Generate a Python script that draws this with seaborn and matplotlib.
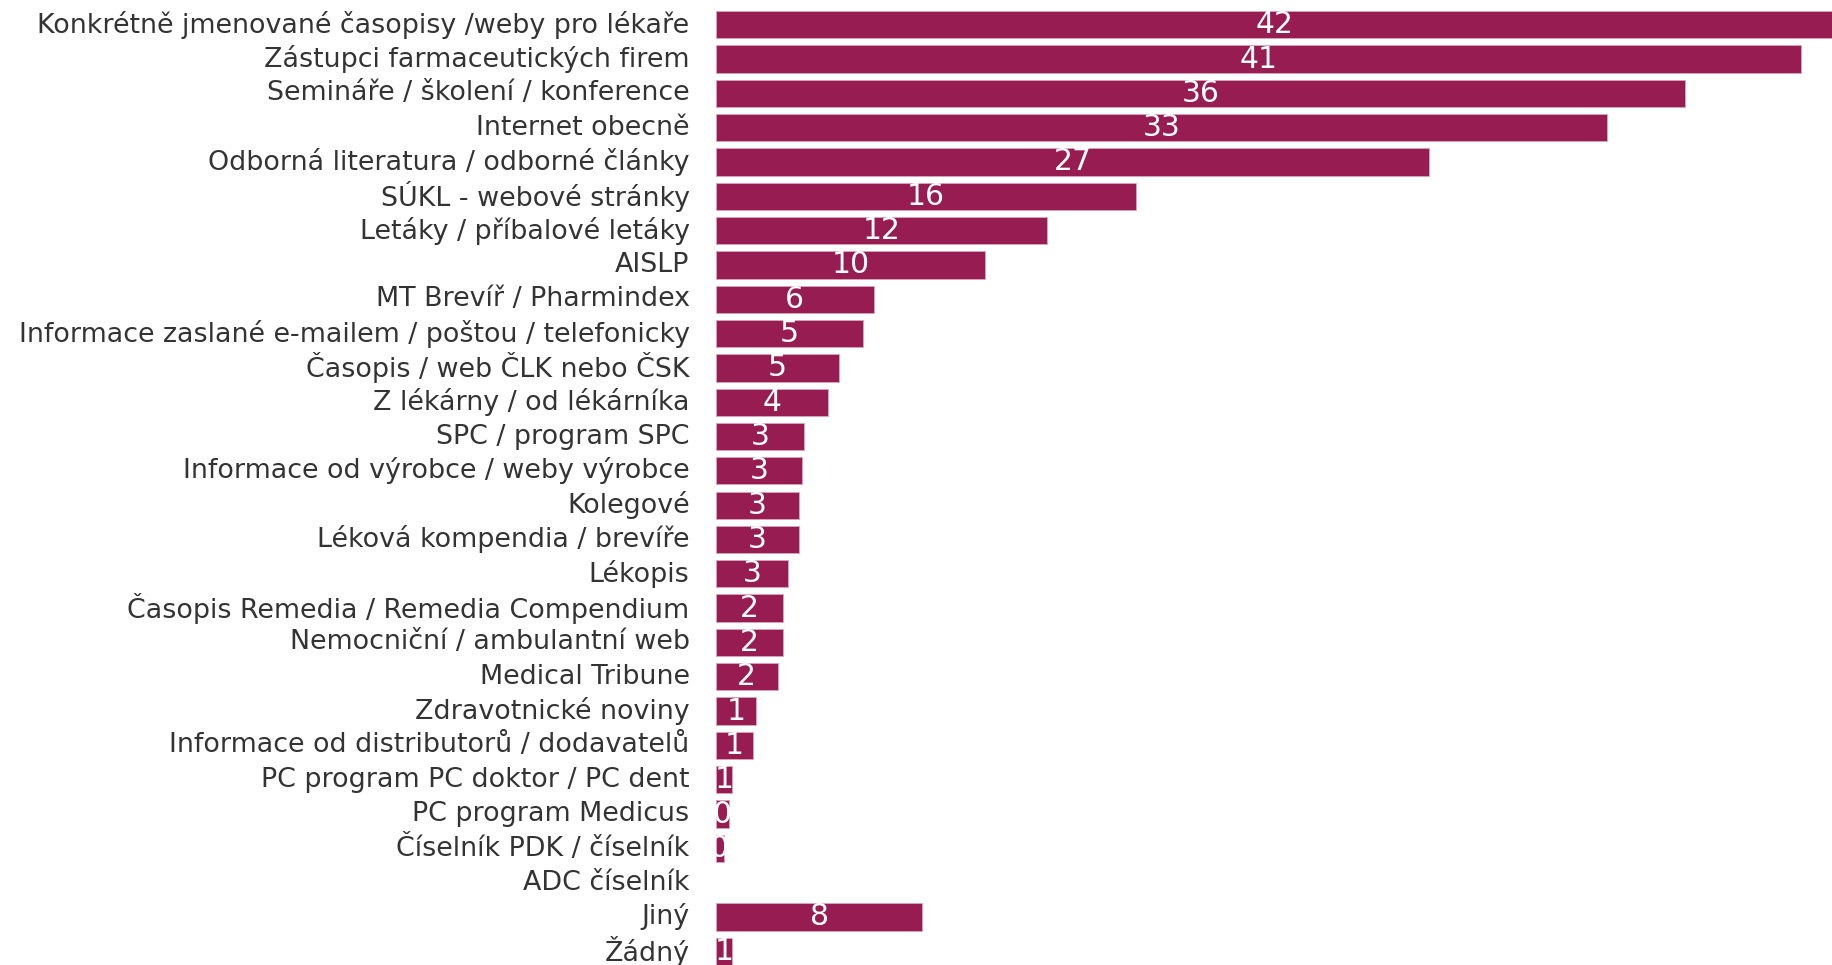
import matplotlib
matplotlib.use("Agg")
import matplotlib.pyplot as plt
import matplotlib.transforms as mtransforms
import seaborn as sns
import pandas as pd

categories = [
    "Konkrétně jmenované časopisy /weby pro lékaře",
    "Zástupci farmaceutických firem",
    "Semináře / školení / konference",
    "Internet obecně",
    "Odborná literatura / odborné články",
    "SÚKL - webové stránky",
    "Letáky / příbalové letáky",
    "AISLP",
    "MT Brevíř / Pharmindex",
    "Informace zaslané e-mailem / poštou / telefonicky",
    "Časopis / web ČLK nebo ČSK",
    "Z lékárny / od lékárníka",
    "SPC / program SPC",
    "Informace od výrobce / weby výrobce",
    "Kolegové",
    "Léková kompendia / brevíře",
    "Lékopis",
    "Časopis Remedia / Remedia Compendium",
    "Nemocniční / ambulantní web",
    "Medical Tribune",
    "Zdravotnické noviny",
    "Informace od distributorů / dodavatelů",
    "PC program PC doktor / PC dent",
    "PC program Medicus",
    "Číselník PDK / číselník",
    "ADC číselník",
    "Jiný",
    "Žádný",
]
values = [41.9, 40.3, 36.0, 33.1, 26.5, 15.6, 12.3, 10.0, 5.86, 5.46, 4.57, 4.16,
          3.27, 3.18, 3.07, 3.07, 2.68, 2.48, 2.48, 2.29, 1.49, 1.38, 0.59, 0.49,
          0.28, 0.0, 7.66, 0.59]
shown_labels = ["42", "41", "36", "33", "27", "16", "12", "10", "6", "5", "5", "4",
                "3", "3", "3", "3", "3", "2", "2", "2", "1", "1", "1", "0",
                "0", "", "8", "1"]

df = pd.DataFrame({"cat": categories, "val": values})

sns.set_theme(style="white")
plt.rcParams["font.family"] = ["DejaVu Sans"]

fig = plt.figure(figsize=(18.33, 9.65), dpi=100)
ax = fig.add_axes([716 / 1833, 0, 1 - 716 / 1833, 1])

bar_color = "#961c51"
sns.barplot(data=df, x="val", y="cat", orient="h", color=bar_color,
            saturation=1, width=0.795, ax=ax,
            edgecolor="#d7a3b9", linewidth=0.7)
for p in ax.containers[0]:
    if p.get_width() == 0:
        p.set_linewidth(0)

ax.set_xlim(0, 41.5)
ax.set_ylim(27.4, -0.72)
ax.set_xlabel("")
ax.set_ylabel("")
ax.set_xticks([])
for s in ax.spines.values():
    s.set_visible(False)
ax.tick_params(axis="y", length=0, pad=19, labelsize=19.4, labelcolor="#333333")

up = mtransforms.ScaledTranslation(0, 3 / 100, fig.dpi_scale_trans)
for lab in ax.get_yticklabels():
    lab.set_transform(lab.get_transform() + up)

texts = ax.bar_label(ax.containers[0], labels=shown_labels, label_type="center",
                     color="white", fontsize=21.5, clip_on=True)
down = mtransforms.ScaledTranslation(0, -2 / 100, fig.dpi_scale_trans)
for t in texts:
    t.set_transform(t.get_transform() + down)

fig.savefig("out.png", dpi=100)
